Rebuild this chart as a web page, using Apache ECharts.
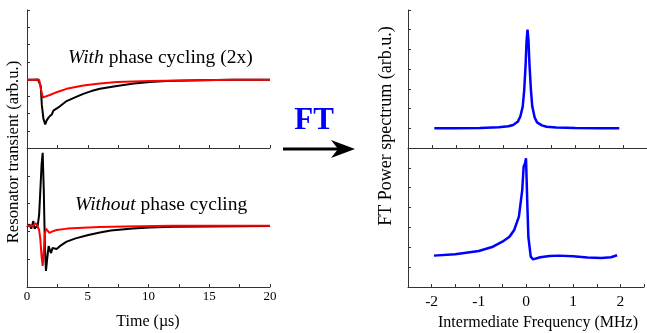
<!DOCTYPE html>
<html>
<head>
<meta charset="utf-8">
<script src="https://cdn.jsdelivr.net/npm/echarts@6/dist/echarts.min.js"></script>
<style>
html,body{margin:0;padding:0;background:#fff;}
#chart{width:647px;height:333px;}
</style>
</head>
<body>
<div id="chart"></div>
<script>
// ---- Data ----
// Left top panel: with phase cycling (time µs, amplitude arb.u.)
const withBlack = [[0,3.95],[0.5,3.95],[0.9,3.97],[1.05,4.02],[1.13,3.6],[1.22,2.5],[1.35,1.7],[1.5,1.37],[1.62,1.6],[1.8,1.79],[1.92,1.74],[2.05,1.95],[2.17,2.17],[2.3,2.15],[2.58,2.35],[3.26,2.72],[4.0,2.95],[4.63,3.14],[5.3,3.3],[6.0,3.43],[7.4,3.6],[8.8,3.74],[10.1,3.83],[11.5,3.89],[14.2,3.93],[17,3.95],[20,3.96]];
const withRed = [[0,3.95],[0.5,3.95],[1.0,3.96],[1.08,3.9],[1.18,3.3],[1.3,2.93],[1.5,2.98],[1.88,3.07],[2.5,3.25],[3.26,3.43],[4.63,3.62],[6.0,3.74],[7.4,3.83],[10.1,3.89],[14.2,3.93],[17,3.95],[20,3.96]];
// Left bottom panel: without phase cycling
const withoutBlack = [[0,2.16],[0.2,2.25],[0.35,2.1],[0.52,2.37],[0.62,2.1],[0.74,2.05],[0.88,2.2],[1.0,2.6],[1.1,3.5],[1.2,4.4],[1.29,4.83],[1.38,3.5],[1.47,1.5],[1.56,0.58],[1.66,1.0],[1.78,1.47],[1.9,1.3],[1.98,1.22],[2.1,1.4],[2.25,1.45],[2.44,1.37],[2.7,1.47],[3.26,1.63],[4.0,1.75],[5.05,1.87],[6.0,1.96],[6.9,2.03],[8.7,2.1],[10.1,2.14],[12,2.17],[15,2.18],[20,2.19]];
const withoutRed = [[0,2.2],[0.5,2.2],[0.7,2.3],[0.85,2.2],[1.0,2.05],[1.1,1.7],[1.2,1.1],[1.29,0.76],[1.38,1.3],[1.47,1.9],[1.56,2.1],[1.7,2.05],[1.85,1.95],[2.1,2.0],[2.44,2.05],[3.3,2.1],[4.6,2.13],[6,2.16],[8,2.18],[12,2.2],[20,2.2]];
// Right panels: FT power spectrum (frequency MHz, power arb.u.)
const ftWith = [[-1.95,1.0],[-1.5,1.0],[-1.0,1.02],[-0.6,1.05],[-0.4,1.1],[-0.3,1.17],[-0.2,1.35],[-0.15,1.6],[-0.1,2.1],[-0.07,2.9],[-0.04,4.2],[-0.02,5.4],[0,6.0],[0.02,5.5],[0.04,4.3],[0.07,3.0],[0.1,2.1],[0.15,1.55],[0.2,1.3],[0.3,1.15],[0.4,1.08],[0.6,1.04],[1.0,1.02],[1.5,1.0],[1.92,1.0]];
const ftWithout = [[-1.95,1.58],[-1.5,1.65],[-1.0,1.81],[-0.7,2.03],[-0.5,2.28],[-0.35,2.53],[-0.25,2.87],[-0.15,3.54],[-0.08,4.88],[-0.05,6.06],[-0.02,6.23],[0,6.48],[0.03,4.04],[0.05,2.53],[0.1,1.53],[0.15,1.39],[0.3,1.5],[0.5,1.56],[0.7,1.58],[1.0,1.55],[1.3,1.48],[1.6,1.46],[1.8,1.5],[1.93,1.6]];
// Tick labels
const timeTicks = [0,5,10,15,20];
const freqTicks = [-2,-1,0,1,2];

const SERIF = '"Liberation Serif","DejaVu Serif",serif';
const AX = '#333';

const chart = echarts.init(document.getElementById('chart'));

function yAx(gi, max){
  return {gridIndex:gi, type:'value', min:0, max:max, interval:1,
    axisLine:{show:true, onZero:false, lineStyle:{color:AX, width:1}},
    axisTick:{show:true, inside:true, length:3, lineStyle:{color:AX}},
    axisLabel:{show:false}, splitLine:{show:false}};
}
function xAxLeft(gi, labels){
  return {gridIndex:gi, type:'value', min:0, max:20, interval:2.5,
    axisLine:{show:true, onZero:false, lineStyle:{color:AX, width:1}},
    axisTick:{show:true, inside:true, length:3, lineStyle:{color:AX}},
    axisLabel:{show:labels, margin:3, fontFamily:SERIF, fontSize:13, color:'#000',
      formatter:v => timeTicks.indexOf(v) >= 0 ? String(v) : ''},
    splitLine:{show:false}};
}
function xAxRight(gi, labels){
  return {gridIndex:gi, type:'value', min:-2.5, max:2.5, interval:0.5,
    axisLine:{show:true, onZero:false, lineStyle:{color:AX, width:1}},
    axisTick:{show:true, inside:true, length:3, lineStyle:{color:AX}},
    axisLabel:{show:labels, margin:7, fontFamily:SERIF, fontSize:15.5, color:'#000',
      formatter:v => freqTicks.indexOf(v) >= 0 ? String(v) : ''},
    splitLine:{show:false}};
}
function ln(xi, data, color, w){
  return {type:'line', xAxisIndex:xi, yAxisIndex:xi, data:data, showSymbol:false,
    symbol:'none', lineStyle:{color:color, width:w}, animation:false, z:3};
}

chart.setOption({
  animation:false,
  backgroundColor:'#fff',
  grid:[
    {left:27, top:10, width:243, height:138},
    {left:27, top:148, width:243, height:139},
    {left:408, top:10, width:243, height:138},
    {left:408, top:148, width:243, height:139}
  ],
  xAxis:[xAxLeft(0,false), xAxLeft(1,true), xAxRight(2,false), xAxRight(3,true)],
  yAxis:[yAx(0,8), yAx(1,5), yAx(2,7), yAx(3,7)],
  series:[
    ln(0, withBlack, '#000', 2),
    ln(0, withRed, '#ff0000', 2),
    ln(1, withoutBlack, '#000', 2),
    ln(1, withoutRed, '#ff0000', 2),
    ln(2, ftWith, '#0000ff', 2.5),
    ln(3, ftWithout, '#0000ff', 2.5)
  ],
  graphic:[
    {type:'text', x:68, y:58, style:{text:'{i|With} phase cycling (2x)', fontFamily:SERIF, fontSize:19.5, fill:'#000', verticalAlign:'middle',
      rich:{i:{fontStyle:'italic', fontFamily:SERIF, fontSize:19.5, fill:'#000'}}}},
    {type:'text', x:75, y:205, style:{text:'{i|Without} phase cycling', fontFamily:SERIF, fontSize:19.5, fill:'#000', verticalAlign:'middle',
      rich:{i:{fontStyle:'italic', fontFamily:SERIF, fontSize:19.5, fill:'#000'}}}},
    {type:'text', x:148, y:322, style:{text:'Time (\u00b5s)', fontFamily:SERIF, fontSize:16, fill:'#000', align:'center', verticalAlign:'middle'}},
    {type:'text', x:538, y:323, style:{text:'Intermediate Frequency (MHz)', fontFamily:SERIF, fontSize:16, fill:'#000', align:'center', verticalAlign:'middle'}},
    {type:'text', x:14, y:152, rotation:Math.PI/2, style:{text:'Resonator transient (arb.u.)', fontFamily:SERIF, fontSize:16.7, fill:'#000', align:'center', verticalAlign:'middle'}},
    {type:'text', x:386, y:126, rotation:Math.PI/2, style:{text:'FT Power spectrum (arb.u.)', fontFamily:SERIF, fontSize:18, fill:'#000', align:'center', verticalAlign:'middle'}},
    {type:'text', x:314, y:121, style:{text:'FT', fontFamily:SERIF, fontSize:31, fontWeight:'bold', fill:'#0000ff', align:'center', verticalAlign:'middle'}},
    {type:'line', shape:{x1:283, y1:149, x2:340, y2:149}, style:{stroke:'#000', lineWidth:3}},
    {type:'polygon', shape:{points:[[331,140],[355,149],[331,158],[338,149]]}, style:{fill:'#000'}}
  ]
});
</script>
</body>
</html>
